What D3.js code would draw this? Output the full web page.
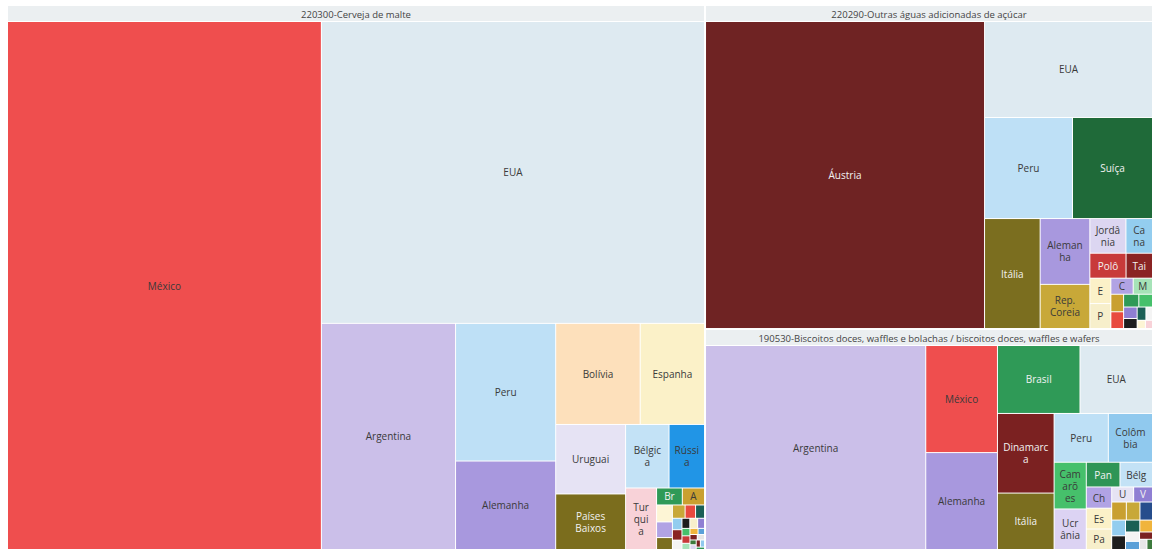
<!DOCTYPE html>
<html><head><meta charset="utf-8">
<script src="https://cdn.jsdelivr.net/npm/d3@7"></script>
<style>
body{margin:0;background:#fff;}
svg{display:block;}
text{font-family:"Open Sans","Segoe UI",sans-serif;}
</style>
</head><body>
<svg id="chart" width="1158" height="551"></svg>
<script>
// ---------- DATA ----------
const groupLabels = [
  "220300-Cerveja de malte",
  "220290-Outras águas adicionadas de açúcar",
  "190530-Biscoitos doces, waffles e bolachas / biscoitos doces, waffles e wafers"
];

const beerCountries = ["México","EUA","Argentina","Peru","Alemanha","Bolívia","Espanha","Uruguai","Países Baixos","Bélgica","Rússia","Turquia",
  "Brasil","Austrália","Equador","Chile","Itália","Rep. Coreia","China","Hong Kong","Canadá","Tailândia","Japão","Angola","Paraguai","Venezuela","Camarões","Polônia","Malásia","Índia","Israel","Gana","Haiti","Suriname","Jordânia","Dinamarca","Colômbia","Panamá"];
const beerValues = [1668.7,1164.6,305.5,138.8,89.2,86.0,65.5,48.9,39.1,27.8,22.7,19.2,
  4.4,3.8,2.7,2.5,1.9,1.7,1.4,1.2,1.1,1.0,0.9,0.8,0.8,0.7,0.6,0.6,0.5,0.5,0.4,0.4,0.4,0.3,0.3,0.3,0.3,0.2];

const waterCountries = ["Áustria","EUA","Peru","Suíça","Itália","Alemanha","Rep. Coreia","Jordânia","Canadá","Polônia","Tailândia",
  "Espanha","Paraguai","Chile","Malásia","Austrália","China","Brasil","Camarões","Venezuela","Angola","Hong Kong","Japão","Equador","Turquia"];
const waterValues = [882.6,166.1,91.6,83.3,63.0,33.7,22.6,12.9,9.5,9.3,6.8,
  5.5,5.4,3.7,3.2,2.3,2.2,2.0,1.8,1.6,1.4,1.2,0.9,0.7,0.6];

const biscuitCountries = ["Argentina","México","Alemanha","Brasil","EUA","Dinamarca","Itália","Peru","Colômbia","Camarões","Ucrânia","Panamá","Bélgica","Chile","Espanha","Paraguai",
  "Uruguai","Venezuela","Austrália","Rep. Coreia","Emirados Árabes Unidos","Canadá","Angola","Hong Kong","Índia","Japão","Israel","Gana","Haiti","Suriname"];
const biscuitValues = [475.1,81.2,73.5,59.3,52.1,47.7,33.8,28.0,22.8,15.9,13.8,8.8,8.5,5.7,5.6,5.5,
  3.5,3.0,2.8,2.6,2.4,2.3,2.0,1.8,1.6,1.4,1.2,1.0,0.8,0.6];

// ---------- STYLES ----------
const palette = {
  "México":"#ef4e4e","EUA":"#deeaf1","Argentina":"#cbbfe9","Peru":"#bee0f6","Alemanha":"#a898de",
  "Bolívia":"#fde0bb","Espanha":"#fbf1c8","Uruguai":"#e6e3f4","Bélgica":"#c3e2f6","Rússia":"#2195e6",
  "Países Baixos":"#7b6d1d","Turquia":"#f8d2d8","Áustria":"#6f2323","Suíça":"#1f6a39","Itália":"#7b6e1f",
  "Rep. Coreia":"#c8a838","Jordânia":"#dcd6f1","Canadá":"#93cdef","Polônia":"#c83a3a","Tailândia":"#8a2424",
  "Brasil":"#2f9a57","Dinamarca":"#7b2121","Colômbia":"#90c9ee","Camarões":"#46c06b","Panamá":"#2e9556",
  "Paraguai":"#f7efcb","Chile":"#b1a3e4","Malásia":"#a6e3b8","Austrália":"#c9a030","Equador":"#fdf5d5",
  "China":"#e84a3f","Hong Kong":"#1b5f55","Japão":"#f4f4f4","Angola":"#1e1e1e","Venezuela":"#8f7fd3",
  "Índia":"#f0b43c","Israel":"#5aa0d8","Gana":"#7b2121","Haiti":"#e6e6e6","Suriname":"#3d7a3d",
  "Emirados Árabes Unidos":"#264d8c","Ucrânia":"#dcd3f3"
};
const whiteLabel = new Set(["Áustria","Suíça","Itália","Países Baixos","Brasil","Dinamarca","Panamá","Tailândia",
  "Polônia","Angola","Hong Kong","Emirados Árabes Unidos","Suriname","Gana","Venezuela"]);

// ---------- BUILD ----------
const groups = [
  {name: groupLabels[0], countries: beerCountries, values: beerValues},
  {name: groupLabels[1], countries: waterCountries, values: waterValues},
  {name: groupLabels[2], countries: biscuitCountries, values: biscuitValues}
];
const rootData = {name: "root", children: groups.map(g => ({
  name: g.name,
  children: g.countries.map((c, i) => ({name: c, value: g.values[i]}))
}))};

const W = 1144, H = 543, X0 = 8, Y0 = 6, HEADER = 16;
const root = d3.hierarchy(rootData).sum(d => d.value || 0).sort((a, b) => b.value - a.value);
d3.treemap()
  .tile(d3.treemapSquarify.ratio(1))
  .size([W, H])
  .paddingInner(d => d.depth === 0 ? 2 : 1)
  .paddingTop(d => d.depth === 1 ? HEADER : 0)
  (root);

const svg = d3.select("#chart");
const g = svg.append("g").attr("transform", `translate(${X0},${Y0})`);

const FS = 10;
const canvas = document.createElement("canvas");
const ctx = canvas.getContext("2d");
ctx.font = FS + 'px "Open Sans", "Segoe UI", sans-serif';
const tw = s => ctx.measureText(s).width;

function wrap(name, maxW, maxLines) {
  const lines = [];
  let cur = "";
  const words = name.split(" ");
  for (const w of words) {
    const test = cur ? cur + " " + w : w;
    if (tw(test) <= maxW) { cur = test; continue; }
    if (cur) { lines.push(cur); cur = ""; }
    if (tw(w) <= maxW) { cur = w; continue; }
    let part = "";
    for (const ch of w) {
      if (tw(part + ch) <= maxW || part === "") { part += ch; }
      else { lines.push(part); part = ch; }
    }
    cur = part;
  }
  if (cur) lines.push(cur);
  return lines.slice(0, maxLines);
}

// group header bands
const groupNodes = root.children;
g.selectAll("rect.header").data(groupNodes).join("rect")
  .attr("class", "header")
  .attr("x", d => d.x0).attr("y", d => d.y0)
  .attr("width", d => d.x1 - d.x0).attr("height", HEADER - 1)
  .attr("fill", "#ebeff1");

g.selectAll("text.header").data(groupNodes).join("text")
  .attr("class", "header")
  .attr("x", d => (d.x0 + d.x1) / 2)
  .attr("y", d => d.y0 + HEADER / 2)
  .attr("text-anchor", "middle")
  .attr("dominant-baseline", "central")
  .attr("font-size", 9.5)
  .attr("fill", "#444")
  .text(d => d.data.name);

// leaves
const leaves = root.leaves();
const cell = g.selectAll("g.leaf").data(leaves).join("g").attr("class", "leaf");
cell.append("rect")
  .attr("x", d => d.x0).attr("y", d => d.y0)
  .attr("width", d => Math.max(0, d.x1 - d.x0))
  .attr("height", d => Math.max(0, d.y1 - d.y0))
  .attr("fill", d => palette[d.data.name] || "#ccc");

const LH = 12;
cell.each(function(d) {
  const w = d.x1 - d.x0, h = d.y1 - d.y0;
  const maxW = w - 10;
  const maxLines = Math.floor((h - 2) / LH);
  if (maxW < 5 || maxLines < 1) return;
  const lines = wrap(d.data.name, maxW, maxLines);
  const cx = (d.x0 + d.x1) / 2, cy = (d.y0 + d.y1) / 2;
  const t = d3.select(this).append("text")
    .attr("text-anchor", "middle")
    .attr("font-size", FS)
    .attr("fill", whiteLabel.has(d.data.name) ? "#f2f2f2" : "#3a3a3a");
  lines.forEach((ln, i) => {
    t.append("tspan")
      .attr("x", cx)
      .attr("y", cy + (i - (lines.length - 1) / 2) * LH)
      .attr("dominant-baseline", "central")
      .text(ln);
  });
});
</script>
</body></html>
